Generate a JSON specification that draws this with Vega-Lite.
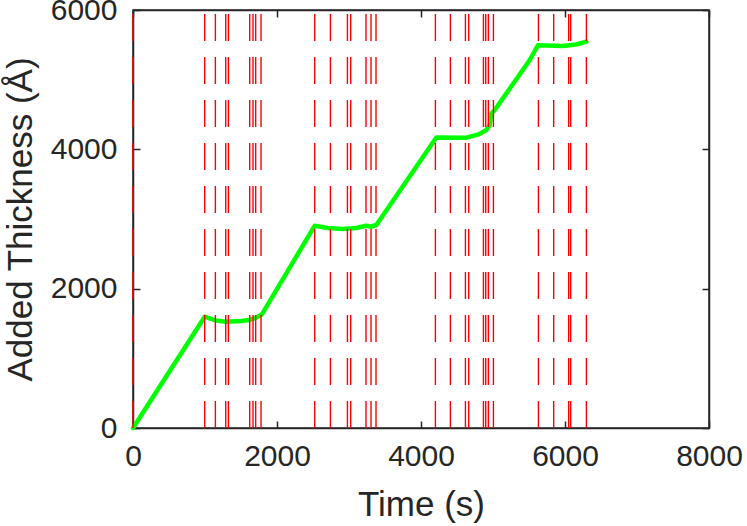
{
  "$schema": "https://vega.github.io/schema/vega-lite/v6.json",
  "width": 576,
  "height": 418,
  "autosize": {"type": "none"},
  "padding": {"left": 133, "top": 10, "right": 38, "bottom": 98},
  "background": "white",
  "config": {
    "view": {"stroke": "#262626", "strokeWidth": 1.5},
    "font": "Liberation Sans",
    "axis": {
      "grid": false,
      "domainColor": "#262626",
      "domainWidth": 1.5,
      "tickColor": "#262626",
      "tickWidth": 1.5,
      "tickSize": -7,
      "labelFont": "Liberation Sans",
      "labelFontSize": 30,
      "labelColor": "#262626",
      "labelFlush": false,
      "labelOverlap": false,
      "labelBound": false,
      "titleFont": "Liberation Sans",
      "titleFontSize": 35,
      "titleFontWeight": "normal",
      "titleColor": "#262626"
    }
  },
  "datasets": {
    "thickness": [
      {"t": 0, "d": 0},
      {"t": 996, "d": 1598},
      {"t": 1144, "d": 1545},
      {"t": 1290, "d": 1526},
      {"t": 1500, "d": 1535},
      {"t": 1621, "d": 1550},
      {"t": 1700, "d": 1580},
      {"t": 1778, "d": 1622},
      {"t": 1800, "d": 1650},
      {"t": 2524, "d": 2904},
      {"t": 2700, "d": 2870},
      {"t": 2917, "d": 2856},
      {"t": 3100, "d": 2870},
      {"t": 3241, "d": 2904},
      {"t": 3300, "d": 2889},
      {"t": 3380, "d": 2914},
      {"t": 4213, "d": 4170},
      {"t": 4630, "d": 4167},
      {"t": 4800, "d": 4215},
      {"t": 4908, "d": 4277},
      {"t": 4954, "d": 4349},
      {"t": 4977, "d": 4517},
      {"t": 5024, "d": 4564},
      {"t": 5510, "d": 5282},
      {"t": 5625, "d": 5495},
      {"t": 5972, "d": 5483},
      {"t": 6150, "d": 5505},
      {"t": 6297, "d": 5545}
    ],
    "events": [
      {"t": 0}, {"t": 996}, {"t": 1144}, {"t": 1288}, {"t": 1325},
      {"t": 1621}, {"t": 1667}, {"t": 1704}, {"t": 1778},
      {"t": 2524}, {"t": 2742}, {"t": 2978}, {"t": 3024},
      {"t": 3236}, {"t": 3306}, {"t": 3375},
      {"t": 4200}, {"t": 4408}, {"t": 4617}, {"t": 4663},
      {"t": 4867}, {"t": 4899}, {"t": 4936}, {"t": 5006},
      {"t": 5631}, {"t": 5843}, {"t": 6051}, {"t": 6079}, {"t": 6297}
    ]
  },
  "layer": [
    {
      "data": {"name": "thickness"},
      "mark": {"type": "line", "color": "#00ff00", "strokeWidth": 4.5, "strokeJoin": "round", "strokeCap": "round"},
      "encoding": {
        "x": {
          "field": "t",
          "type": "quantitative",
          "scale": {"domain": [0, 8000], "nice": false},
          "axis": {"orient": "bottom", "values": [0, 2000, 4000, 6000, 8000], "format": "d", "title": "Time (s)", "labelPadding": 20, "titlePadding": 16}
        },
        "y": {
          "field": "d",
          "type": "quantitative",
          "scale": {"domain": [0, 6000], "nice": false},
          "axis": {"orient": "left", "values": [0, 2000, 4000, 6000], "format": "d", "title": "Added Thickness (Å)", "labelPadding": 23, "titlePadding": 12}
        }
      }
    },
    {
      "data": {"name": "events"},
      "mark": {"type": "rule", "color": "#ff0000", "strokeWidth": 1.4, "strokeDash": [27, 16]},
      "encoding": {
        "x": {
          "field": "t",
          "type": "quantitative",
          "axis": {"orient": "top", "values": [0, 2000, 4000, 6000, 8000], "labels": false, "title": null}
        },
        "y": {
          "datum": 0,
          "type": "quantitative",
          "axis": {"orient": "right", "values": [0, 2000, 4000, 6000], "labels": false, "title": null}
        },
        "y2": {"datum": 6000}
      }
    }
  ],
  "resolve": {"axis": {"x": "independent", "y": "independent"}}
}
